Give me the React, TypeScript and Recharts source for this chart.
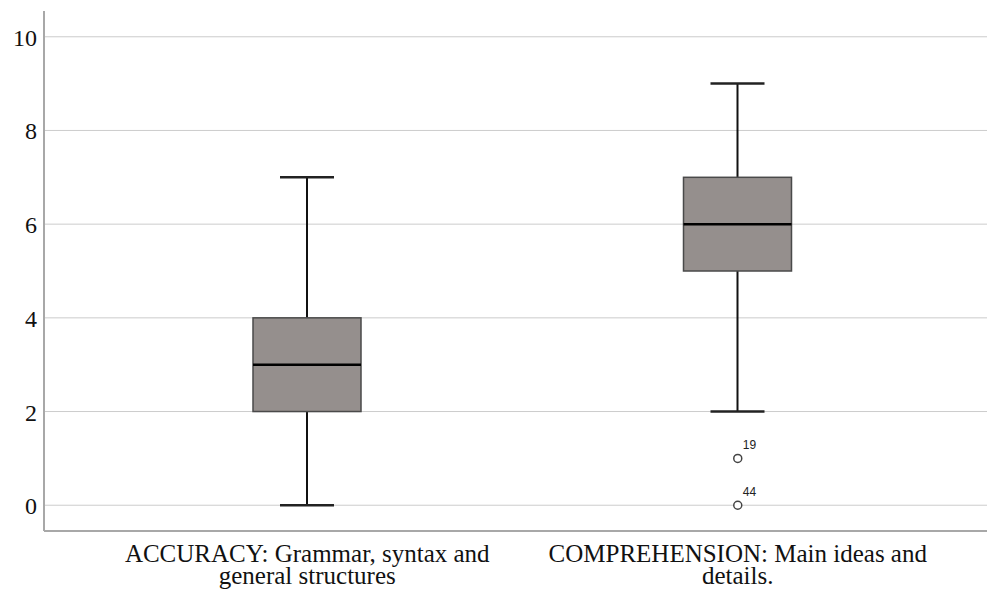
import React from "react"
import {
  Bar,
  CartesianGrid,
  ComposedChart,
  ReferenceDot,
  XAxis,
  YAxis,
} from "recharts"

const categories = ["ACCURACY", "COMPREHENSION"]
const tickLines = [
  ["ACCURACY: Grammar, syntax and", "general structures"],
  ["COMPREHENSION: Main ideas and", "details."],
]
const mins = [0, 2]
const q1s = [2, 5]
const medians = [3, 6]
const q3s = [4, 7]
const maxs = [7, 9]

const outlierCategory = ["COMPREHENSION", "COMPREHENSION"]
const outlierValues = [1, 0]
const outlierLabels = ["19", "44"]

const yTicks = [0, 2, 4, 6, 8, 10]

const data = categories.map((name, i) => ({
  name,
  min: mins[i],
  q1: q1s[i],
  median: medians[i],
  q3: q3s[i],
  max: maxs[i],
}))

const serif = "'Liberation Serif', 'Times New Roman', serif"

// box + whiskers drawn inside the min..max range bar
const BoxShape = (props: any) => {
  const { x, y, width, height, payload } = props
  if (x == null || y == null || !payload) return null
  const top = Math.min(y, y + height)
  const h = Math.abs(height)
  const { min, max, q1, median, q3 } = payload
  const toPx = (v: number) => top + (h * (max - v)) / (max - min)
  const cx = x + width / 2
  const cap = width / 4
  return (
    <g>
      <line x1={cx} x2={cx} y1={toPx(max)} y2={toPx(q3)} stroke="#111" strokeWidth={2} />
      <line x1={cx} x2={cx} y1={toPx(q1)} y2={toPx(min)} stroke="#111" strokeWidth={2} />
      <line x1={cx - cap} x2={cx + cap} y1={toPx(max)} y2={toPx(max)} stroke="#222" strokeWidth={2.5} />
      <line x1={cx - cap} x2={cx + cap} y1={toPx(min)} y2={toPx(min)} stroke="#222" strokeWidth={2.5} />
      <rect
        x={x}
        y={toPx(q3)}
        width={width}
        height={toPx(q1) - toPx(q3)}
        fill="#958f8d"
        stroke="#4a4a4a"
        strokeWidth={1.5}
      />
      <line x1={x} x2={x + width} y1={toPx(median)} y2={toPx(median)} stroke="#000" strokeWidth={2.5} />
    </g>
  )
}

const outlierShape = (label: string) => (props: any) => {
  const { cx, cy } = props
  if (cx == null || cy == null) return <g />
  return (
    <g>
      <circle cx={cx} cy={cy} r={4} fill="#fff" stroke="#444" strokeWidth={1.5} />
      <text
        x={cx + 5}
        y={cy - 9}
        fontSize={12}
        fontFamily="'Liberation Sans', Arial, sans-serif"
        fill="#222"
      >
        {label}
      </text>
    </g>
  )
}

const CategoryTick = (props: any) => {
  const { x, y, payload, index } = props
  const lines = tickLines[categories.indexOf(payload.value)] || tickLines[index] || []
  return (
    <text x={x} y={y} textAnchor="middle" fontSize={25} fontFamily={serif} fill="#111">
      {lines.map((t: string, i: number) => (
        <tspan key={i} x={x} dy={i === 0 ? 29 : 22}>
          {t}
        </tspan>
      ))}
    </text>
  )
}

const ValueTick = (props: any) => {
  const { x, y, payload } = props
  return (
    <text x={x} y={y + 9} textAnchor="end" fontSize={24} fontFamily={serif} fill="#111">
      {payload.value}
    </text>
  )
}

export default function App() {
  return (
    <div style={{ width: 987, height: 583 }}>
      <ComposedChart
        width={987}
        height={583}
        data={data}
        margin={{ top: 3, right: 0, bottom: 0, left: 0 }}
      >
        <CartesianGrid
          vertical={false}
          syncWithTicks
          horizontal={{ stroke: "#d3d3d3", strokeWidth: 1.5 }}
        />
        <XAxis
          dataKey="name"
          type="category"
          height={60}
          padding={{ left: 48, right: 42 }}
          tickLine={false}
          tickSize={0}
          tick={<CategoryTick />}
          interval={0}
          axisLine={{ stroke: "#a8a8a8", strokeWidth: 2 }}
        />
        <YAxis
          type="number"
          domain={[-0.55, 10.55]}
          ticks={yTicks}
          width={36}
          tickLine={false}
          tickSize={0}
          tickMargin={7}
          axisLine={{ stroke: "#a8a8a8", strokeWidth: 2 }}
          tick={<ValueTick />}
        />
        <Bar
          dataKey={(d: any) => [d.min, d.max]}
          barSize={108}
          shape={<BoxShape />}
          isAnimationActive={false}
        />
        {outlierValues.map((v, i) => (
          <ReferenceDot
            key={i}
            x={outlierCategory[i]}
            y={v}
            r={4}
            shape={outlierShape(outlierLabels[i])}
          />
        ))}
      </ComposedChart>
    </div>
  )
}
